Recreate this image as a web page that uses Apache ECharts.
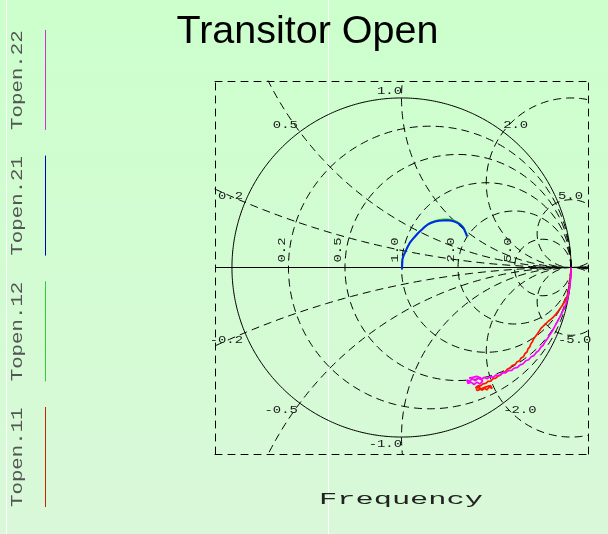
<!DOCTYPE html>
<html>
<head>
<meta charset="utf-8">
<script src="https://cdn.jsdelivr.net/npm/echarts@6/dist/echarts.min.js"></script>
<style>
  html, body { margin: 0; padding: 0; background: #ccffcc; }
  #chart { width: 608px; height: 534px; }
</style>
</head>
<body>
<div id="chart"></div>
<script>
// ---- Text ----
const titleText = 'Transitor Open';
const axisName = 'Frequency';
const seriesNames = ['Topen.11', 'Topen.12', 'Topen.21', 'Topen.22'];
const seriesColors = ['#ff1400', '#22cc00', '#0028f0', '#ff00ff'];
const legendColors = ['#cc2200', '#33cc33', '#0000bb', '#cc33cc'];

// ---- Smith chart grid values ----
const resistanceTicks = [0.2, 0.5, 1.0, 2.0, 5.0];
const reactanceTicks = [0.2, 0.5, 1.0, 2.0, 5.0, -0.2, -0.5, -1.0, -2.0, -5.0];
const gammaMin = -1.1;
const gammaMax = 1.1;

// ---- Reflection coefficients [Re, Im] over the frequency sweep ----
const topen11 = [
  [1.000, 0.000], [0.997, -0.045], [0.993, -0.090], [0.987, -0.130], [0.978, -0.166],
  [0.967, -0.193], [0.953, -0.217], [0.940, -0.236], [0.924, -0.258], [0.910, -0.276],
  [0.894, -0.294], [0.880, -0.306], [0.866, -0.317], [0.850, -0.332], [0.836, -0.346],
  [0.824, -0.357], [0.812, -0.376], [0.801, -0.392], [0.792, -0.402], [0.780, -0.420],
  [0.773, -0.436], [0.762, -0.452], [0.757, -0.468], [0.746, -0.480], [0.741, -0.497],
  [0.728, -0.508], [0.719, -0.527], [0.704, -0.535], [0.697, -0.550], [0.682, -0.556],
  [0.670, -0.572], [0.653, -0.578], [0.641, -0.592], [0.624, -0.600], [0.612, -0.615],
  [0.598, -0.618], [0.585, -0.634], [0.569, -0.640], [0.556, -0.652], [0.540, -0.655],
  [0.527, -0.670], [0.510, -0.672], [0.497, -0.684], [0.480, -0.686], [0.466, -0.698],
  [0.450, -0.698], [0.436, -0.710], [0.430, -0.700], [0.445, -0.716], [0.462, -0.709],
  [0.474, -0.724], [0.490, -0.712], [0.503, -0.722], [0.518, -0.705], [0.535, -0.714],
  [0.524, -0.696], [0.498, -0.704], [0.470, -0.716], [0.448, -0.726], [0.440, -0.718]
];
const topen12 = [
  [0.002, -0.010], [0.004, 0.012], [0.006, 0.049], [0.013, 0.072], [0.022, 0.091],
  [0.036, 0.122], [0.051, 0.150], [0.066, 0.168], [0.082, 0.186], [0.101, 0.208],
  [0.122, 0.227], [0.140, 0.244], [0.158, 0.258], [0.179, 0.269], [0.200, 0.276],
  [0.224, 0.281], [0.247, 0.284], [0.268, 0.285], [0.288, 0.283], [0.309, 0.277],
  [0.330, 0.268], [0.348, 0.256], [0.362, 0.242], [0.372, 0.226], [0.380, 0.208],
  [0.386, 0.194], [0.391, 0.180]
];
const topen21 = [
  [0.003, -0.012], [0.004, 0.010], [0.005, 0.047], [0.012, 0.070], [0.021, 0.088],
  [0.035, 0.120], [0.050, 0.147], [0.065, 0.166], [0.080, 0.183], [0.100, 0.205],
  [0.121, 0.224], [0.138, 0.240], [0.156, 0.254], [0.177, 0.264], [0.198, 0.271],
  [0.222, 0.276], [0.245, 0.277], [0.266, 0.279], [0.286, 0.277], [0.307, 0.273],
  [0.327, 0.265], [0.344, 0.254], [0.357, 0.242], [0.368, 0.228], [0.375, 0.212],
  [0.381, 0.198], [0.386, 0.183]
];
const topen22 = [
  [1.000, 0.000], [0.999, -0.040], [0.995, -0.095], [0.989, -0.135], [0.980, -0.180],
  [0.970, -0.214], [0.958, -0.244], [0.946, -0.268], [0.933, -0.294], [0.918, -0.322],
  [0.904, -0.347], [0.889, -0.376], [0.874, -0.398], [0.858, -0.424], [0.848, -0.436],
  [0.834, -0.460], [0.822, -0.470], [0.808, -0.492], [0.796, -0.500], [0.780, -0.520],
  [0.765, -0.526], [0.750, -0.544], [0.733, -0.550], [0.718, -0.568], [0.700, -0.574],
  [0.684, -0.589], [0.664, -0.594], [0.650, -0.607], [0.630, -0.608], [0.612, -0.622],
  [0.594, -0.622], [0.577, -0.638], [0.558, -0.634], [0.540, -0.648], [0.522, -0.642],
  [0.505, -0.656], [0.486, -0.648], [0.470, -0.662], [0.452, -0.652], [0.436, -0.668],
  [0.418, -0.656], [0.400, -0.670], [0.386, -0.664], [0.392, -0.684], [0.410, -0.676],
  [0.428, -0.690], [0.446, -0.676], [0.462, -0.688], [0.478, -0.670], [0.466, -0.650],
  [0.444, -0.642], [0.420, -0.648], [0.398, -0.652]
];
const traces = [topen11, topen12, topen21, topen22];
const traceWidths = [1.7, 1.6, 2.0, 1.7];

// ---- Geometry helpers for the Smith grid ----
function circle(cx, cy, rad) {
  const pts = [];
  const n = 1440;
  for (let i = 0; i <= n; i++) {
    const t = 2 * Math.PI * i / n;
    pts.push([cx + rad * Math.cos(t), cy + rad * Math.sin(t)]);
  }
  return pts;
}
const dash = [8, 5];
const gridSeries = [];
// constant-resistance circles
resistanceTicks.forEach(r => {
  gridSeries.push({
    type: 'line', data: circle(r / (1 + r), 0, 1 / (1 + r)),
    showSymbol: false, clip: true, silent: true, z: 1,
    lineStyle: { color: '#000', width: 1, type: dash }
  });
});
// constant-reactance arcs
reactanceTicks.forEach(x => {
  gridSeries.push({
    type: 'line', data: circle(1, 1 / x, 1 / Math.abs(x)),
    showSymbol: false, clip: true, silent: true, z: 1,
    lineStyle: { color: '#000', width: 1, type: dash }
  });
});
// outer |Γ| = 1 circle and real axis
gridSeries.push({
  type: 'line', data: circle(0, 0, 1), showSymbol: false, clip: true, silent: true, z: 2,
  lineStyle: { color: '#000', width: 1 }
});
gridSeries.push({
  type: 'line', data: [[gammaMin, 0], [gammaMax, 0]], showSymbol: false, clip: true, silent: true, z: 2,
  lineStyle: { color: '#000', width: 1.2 }
});

const dataSeries = traces.map((d, i) => ({
  name: seriesNames[i], type: 'line', data: d, showSymbol: false, clip: true, z: 5 + i,
  lineStyle: { color: seriesColors[i], width: traceWidths[i] }
}));

const boxLine = { show: true, onZero: false, lineStyle: { color: '#000', width: 1, type: [7, 6] } };
const hiddenParts = { axisTick: { show: false }, axisLabel: { show: false }, splitLine: { show: false } };

const chart = echarts.init(document.getElementById('chart'), null, { renderer: 'canvas' });
chart.setOption({
  animation: false,
  backgroundColor: new echarts.graphic.LinearGradient(0, 0, 0, 1, [
    { offset: 0, color: '#ccffcc' }, { offset: 1, color: '#d9f8d9' }
  ]),
  grid: { left: 215, top: 81, width: 373, height: 373 },
  xAxis: [
    Object.assign({ type: 'value', min: gammaMin, max: gammaMax, position: 'bottom', axisLine: boxLine }, hiddenParts),
    Object.assign({ type: 'value', min: gammaMin, max: gammaMax, position: 'top', axisLine: boxLine }, hiddenParts)
  ],
  yAxis: [
    Object.assign({ type: 'value', min: gammaMin, max: gammaMax, position: 'left', axisLine: boxLine }, hiddenParts),
    Object.assign({ type: 'value', min: gammaMin, max: gammaMax, position: 'right', axisLine: boxLine }, hiddenParts)
  ],
  series: gridSeries.concat(dataSeries)
});

// ---- Text and decorations positioned through the grid's scales ----
const toPx = p => chart.convertToPixel({ gridIndex: 0 }, p);
const labelFont = '11px "Liberation Mono"';
const graphics = [];

function txt(x, y, text, font, fill, align, vAlign, scaleX, rotation, z) {
  return {
    type: 'text', x: x, y: y, scaleX: scaleX || 1, rotation: rotation || 0, z: z || 20, silent: true,
    style: {
      text: text, font: font, fill: fill,
      align: align, textAlign: align, verticalAlign: vAlign, textVerticalAlign: vAlign
    }
  };
}

// faint white guide lines behind everything
[6.5, 328.5].forEach(x => {
  graphics.push({ type: 'line', z: -10, silent: true, shape: { x1: x, y1: 0, x2: x, y2: 534 },
    style: { stroke: '#ffffff', lineWidth: 1 } });
});

// title
graphics.push(txt(307.5, 32.5, titleText, '39.5px "Liberation Sans"', '#000', 'center', 'middle', 1, 0));

// resistance labels along the real axis
resistanceTicks.forEach(r => {
  const p = toPx([(r - 1) / (r + 1), 0]);
  graphics.push(txt(p[0] - 1, p[1] - 5, r.toFixed(1), labelFont, '#1a1a1a', 'left', 'bottom', 1.26, Math.PI / 2));
});

// reactance labels on the outer circle
reactanceTicks.forEach(x => {
  const g = [(x * x - 1) / (x * x + 1), 2 * x / (x * x + 1)];
  const p = toPx(g);
  const ax = Math.abs(x);
  const align = ax <= 1 ? 'right' : 'left';
  const dx = ax < 1 ? -2 : (ax === 1 ? 0.5 : 0);
  const dy = x > 0 ? -6.5 : 7;
  graphics.push(txt(p[0] + dx, p[1] + dy, x.toFixed(1), labelFont, '#1a1a1a', align, 'middle', 1.26, 0));
});

// axis name
graphics.push(txt(401, 499.5, axisName, '16.5px "Liberation Mono"', '#222', 'center', 'middle', 1.84, 0));

// vertical legend on the left
const legendStart = 507;
const legendStep = 125.7;
const legendLen = 100;
seriesNames.forEach((name, i) => {
  const y0 = legendStart - i * legendStep;
  graphics.push(txt(17.5, y0, name, '17px "Liberation Mono"', '#555', 'left', 'middle', 1.22, Math.PI / 2));
  graphics.push({ type: 'line', z: 20, silent: true,
    shape: { x1: 45.5, y1: y0, x2: 45.5, y2: y0 - legendLen },
    style: { stroke: legendColors[i], lineWidth: 1 } });
});

chart.setOption({ graphic: { elements: graphics } });
</script>
</body>
</html>
